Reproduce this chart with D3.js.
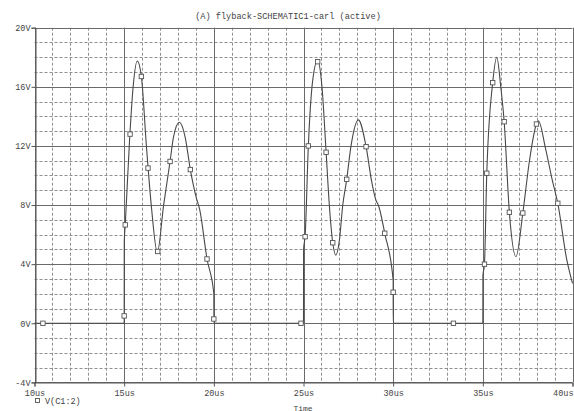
<!DOCTYPE html>
<html>
<head>
<meta charset="utf-8">
<script src="https://cdn.jsdelivr.net/npm/d3@7"></script>
<style>
  html, body { margin: 0; padding: 0; background: #fff; }
  svg { display: block; }
  text { font-family: "Liberation Mono", "DejaVu Sans Mono", monospace; fill: #444; }
</style>
</head>
<body>
<svg id="chart" width="574" height="411"></svg>
<script>
// ---- data ----
const chartTitle = "(A) flyback-SCHEMATIC1-carl (active)";
const seriesName = "V(C1:2)";
const xAxisTitle = "Time";

const xTickValues = [10, 15, 20, 25, 30, 35, 40];          // microseconds
const yTickValues = [-4, 0, 4, 8, 12, 16, 20];             // volts

// trace: time (us) and voltage (V)
const traceTime = [
  10, 15, 15.005, 15.06, 15.31, 15.5, 15.73, 15.96, 16.24, 16.51, 16.85, 17.2, 17.56, 17.75, 18.08, 18.4, 18.69, 19.02, 19.21, 19.62, 20.0, 20.005,
  25, 25.005, 25.09, 25.27, 25.5, 25.79, 26.03, 26.26, 26.44, 26.63, 26.8, 27.0, 27.19, 27.41, 27.65, 28.06, 28.49, 28.8, 29.02, 29.2, 29.53, 30.0, 30.005,
  35, 35.005, 35.09, 35.22, 35.55, 35.78, 36.0, 36.19, 36.48, 36.85, 37.23, 37.6, 37.99, 38.1, 38.5, 38.87, 39.18, 39.68, 40.0
];
const traceVolts = [
  0, 0, 5.5, 6.66, 12.6, 16.0, 17.75, 16.7, 12.0, 8.0, 4.8, 8.0, 10.95, 12.6, 13.6, 12.6, 10.4, 8.5, 7.7, 4.35, 2.0, 0,
  0, 5.0, 5.9, 12.0, 16.3, 17.8, 16.0, 11.6, 8.0, 5.45, 4.62, 5.6, 8.0, 9.74, 12.0, 13.76, 11.95, 9.6, 8.4, 7.9, 6.09, 2.9, 0,
  0, 3.2, 4.0, 10.15, 16.28, 18.0, 16.0, 13.64, 7.51, 4.5, 7.46, 11.0, 13.48, 13.7, 11.8, 9.7, 8.12, 4.3, 2.7
];

// symbol markers along the trace
const markerTime = [
  10.47, 15.0, 15.06, 15.33, 15.96, 16.33, 16.87, 17.56, 18.69, 19.62, 20.0,
  24.86, 25.09, 25.27, 25.79, 26.26, 26.63, 27.41, 28.49, 29.53, 30.0,
  33.36, 35.09, 35.22, 35.55, 36.19, 36.48, 37.23, 37.99, 39.18
];
const markerVolts = [
  0, 0.5, 6.66, 12.8, 16.7, 10.5, 4.86, 10.95, 10.4, 4.35, 0.29,
  0, 5.86, 12.0, 17.7, 11.57, 5.45, 9.74, 11.95, 6.09, 2.1,
  0, 4.0, 10.15, 16.28, 13.64, 7.51, 7.46, 13.48, 8.12
];

// ---- layout ----
const svg = d3.select("#chart");
const pLeft = 34.5, pRight = 572.5, pTop = 27.7, pBottom = 382.4;

const x = d3.scaleLinear().domain([10, 40]).range([pLeft, pRight]);
const y = d3.scaleLinear().domain([-4, 20]).range([pBottom, pTop]);

const minorX = d3.range(11, 40).filter(d => d % 5 !== 0);
const minorY = d3.range(-3, 20).filter(d => d % 4 !== 0);

// minor dashed grid
const grid = svg.append("g");
grid.selectAll(".mx").data(minorX).join("line")
  .attr("x1", d => Math.round(x(d)) + 0.5).attr("x2", d => Math.round(x(d)) + 0.5)
  .attr("y1", pTop).attr("y2", pBottom)
  .attr("stroke", "#909090").attr("stroke-width", 1).attr("stroke-dasharray", "3,2");
grid.selectAll(".my").data(minorY).join("line")
  .attr("y1", d => Math.round(y(d)) + 0.5).attr("y2", d => Math.round(y(d)) + 0.5)
  .attr("x1", pLeft).attr("x2", pRight)
  .attr("stroke", "#909090").attr("stroke-width", 1).attr("stroke-dasharray", "3,2");

// major solid grid
grid.selectAll(".Mx").data(xTickValues).join("line")
  .attr("x1", d => Math.round(x(d)) + 0.5).attr("x2", d => Math.round(x(d)) + 0.5)
  .attr("y1", pTop).attr("y2", pBottom)
  .attr("stroke", "#6a6a6a").attr("stroke-width", 1);
grid.selectAll(".My").data(yTickValues).join("line")
  .attr("y1", d => Math.round(y(d)) + 0.5).attr("y2", d => Math.round(y(d)) + 0.5)
  .attr("x1", pLeft).attr("x2", pRight)
  .attr("stroke", "#6a6a6a").attr("stroke-width", 1);

// axes
const yAxis = d3.axisLeft(y).tickValues(yTickValues).tickFormat(d => d + "V")
  .tickSize(4).tickPadding(1);
const gy = svg.append("g").attr("transform", `translate(${Math.round(pLeft) + 0.5},0)`).call(yAxis);
const xAxis = d3.axisBottom(x).tickValues(xTickValues).tickFormat(d => d + "us")
  .tickSize(4).tickPadding(3);
const gx = svg.append("g").attr("transform", `translate(0,${Math.round(pBottom) + 0.5})`).call(xAxis);
[gx, gy].forEach(g => {
  g.selectAll("path.domain").attr("stroke", "#555");
  g.selectAll(".tick line").attr("stroke", "#555");
  g.selectAll("text").attr("font-family", "Liberation Mono, monospace").attr("font-size", "8.5px").attr("fill", "#444");
});
// last x label kept inside the picture, ending at its tick
gx.selectAll(".tick").filter(d => d === d3.max(xTickValues)).select("text")
  .attr("text-anchor", "end").attr("x", 0.5);

// trace
const pts = traceTime.map((t, i) => [t, traceVolts[i]]);
const line = d3.line().x(d => x(d[0])).y(d => y(d[1])).curve(d3.curveMonotoneX);
svg.append("path").datum(pts).attr("d", line)
  .attr("fill", "none").attr("stroke", "#484848").attr("stroke-width", 1.1);

// markers
const mk = markerTime.map((t, i) => [t, markerVolts[i]]);
svg.append("g").selectAll("rect").data(mk).join("rect")
  .attr("x", d => x(d[0]) - 2.2).attr("y", d => y(d[1]) - 2.2)
  .attr("width", 4.4).attr("height", 4.4)
  .attr("fill", "#fff").attr("stroke", "#555").attr("stroke-width", 0.9);

// title
svg.append("text").attr("x", 288).attr("y", 19).attr("text-anchor", "middle")
  .attr("font-size", "8.6px").text(chartTitle);

// legend
svg.append("rect").attr("x", 35.5).attr("y", 398.5).attr("width", 4).attr("height", 4)
  .attr("fill", "#fff").attr("stroke", "#555").attr("stroke-width", 0.9);
svg.append("text").attr("x", 45).attr("y", 404).attr("font-size", "8.5px").text(seriesName);

// x axis title at the bottom edge
svg.append("text").attr("x", 303).attr("y", 410.5).attr("text-anchor", "middle")
  .attr("font-size", "8px").text(xAxisTitle);
</script>
</body>
</html>
